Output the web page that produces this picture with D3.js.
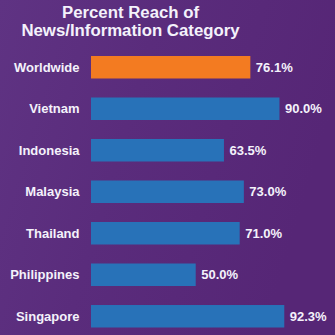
<!DOCTYPE html>
<html>
<head>
<meta charset="utf-8">
<script src="https://cdn.jsdelivr.net/npm/d3@7"></script>
<style>
  html, body { margin: 0; padding: 0; background: #582878; }
  svg { display: block; }
</style>
</head>
<body>
<div id="chart"></div>
<script>
var titleLines = ["Percent Reach of", "News/Information Category"];
var categories = ["Worldwide", "Vietnam", "Indonesia", "Malaysia", "Thailand", "Philippines", "Singapore"];
var values = [76.1, 90.0, 63.5, 73.0, 71.0, 50.0, 92.3];

var w = 335, h = 335;

var svg = d3.select("#chart").append("svg")
    .attr("width", w)
    .attr("height", h);

var defs = svg.append("defs");
var grad = defs.append("linearGradient")
    .attr("id", "bg")
    .attr("x1", "0%").attr("y1", "0%")
    .attr("x2", "100%").attr("y2", "30%");
grad.append("stop").attr("offset", "0%").attr("stop-color", "#5f3383");
grad.append("stop").attr("offset", "45%").attr("stop-color", "#5a2c7c");
grad.append("stop").attr("offset", "100%").attr("stop-color", "#562676");

svg.append("rect")
    .attr("width", w)
    .attr("height", h)
    .attr("fill", "url(#bg)");

var x = d3.scaleLinear()
    .domain([0, 100])
    .range([91, 300.4]);

var y = d3.scaleBand()
    .domain(categories)
    .range([56, 327.5])
    .paddingInner(0.458)
    .paddingOuter(0);

var font = "'Liberation Sans', Arial, sans-serif";

svg.selectAll("text.title")
    .data(titleLines)
    .enter().append("text")
    .attr("class", "title")
    .attr("x", 130.5)
    .attr("y", function(d, i) { return 17.5 + i * 18.8; })
    .attr("text-anchor", "middle")
    .style("font-family", font)
    .style("font-weight", "bold")
    .style("font-size", "16.8px")
    .style("fill", "#f4f2fb")
    .text(function(d) { return d; });

var rows = svg.selectAll("g.row")
    .data(categories)
    .enter().append("g")
    .attr("class", "row");

rows.append("rect")
    .attr("x", x(0))
    .attr("y", function(d) { return y(d); })
    .attr("width", function(d, i) { return x(values[i]) - x(0); })
    .attr("height", y.bandwidth())
    .attr("fill", function(d, i) { return i === 0 ? "#f37b21" : "#2872b8"; });

rows.append("text")
    .attr("x", 79.5)
    .attr("y", function(d) { return y(d) + y.bandwidth() / 2; })
    .attr("dy", "0.36em")
    .attr("text-anchor", "end")
    .style("font-family", font)
    .style("font-weight", "bold")
    .style("font-size", "13px")
    .style("fill", "#f4f2fb")
    .text(function(d) { return d; });

rows.append("text")
    .attr("x", function(d, i) { return x(values[i]) + 5.5; })
    .attr("y", function(d) { return y(d) + y.bandwidth() / 2; })
    .attr("dy", "0.36em")
    .style("font-family", font)
    .style("font-weight", "bold")
    .style("font-size", "13px")
    .style("fill", "#f4f2fb")
    .text(function(d, i) { return values[i].toFixed(1) + "%"; });
</script>
</body>
</html>
